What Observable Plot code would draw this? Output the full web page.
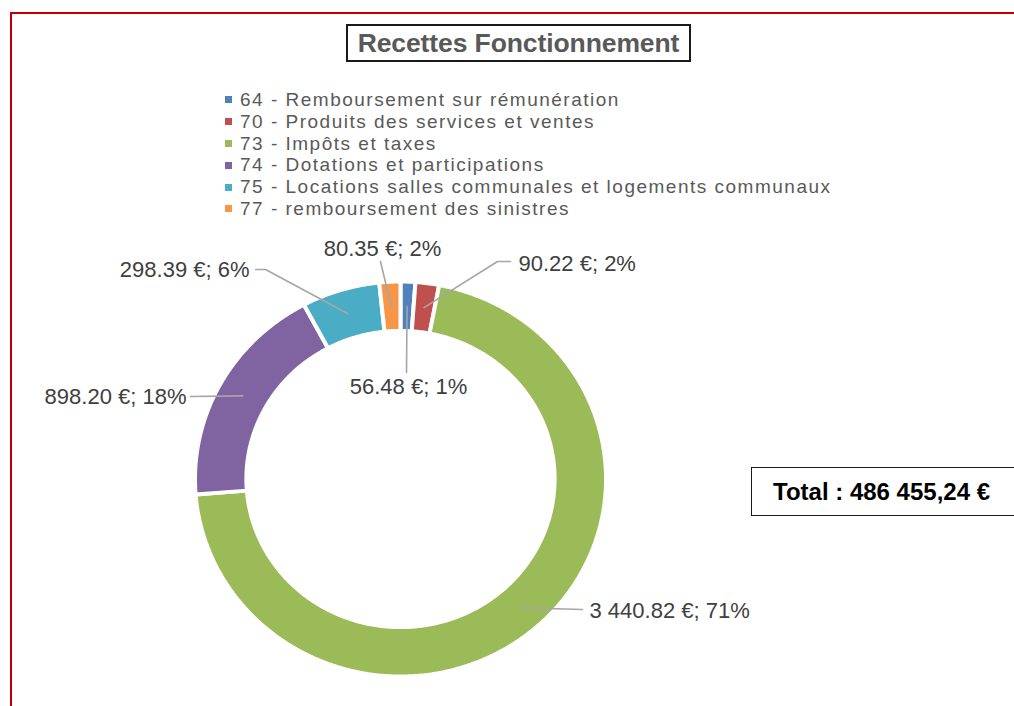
<!DOCTYPE html>
<html><head><meta charset="utf-8">
<script src="https://cdn.jsdelivr.net/npm/d3@7"></script>
<script src="https://cdn.jsdelivr.net/npm/@observablehq/plot@0.6"></script>
<style>
body{margin:0;background:#fff;font-family:"Liberation Sans",Arial,sans-serif;}
#wrap{position:relative;width:1014px;height:706px;overflow:hidden;background:#fff;}
#frame{position:absolute;left:10px;top:12px;width:1100px;height:800px;border-left:2px solid #c00000;border-top:2px solid #c00000;}
#chart{position:absolute;left:0;top:0;}
#title{position:absolute;left:346px;top:24px;width:341px;height:34px;border:2px solid #1a1a1a;color:#595959;font-weight:bold;font-size:26.5px;line-height:34px;text-align:center;background:#fff;letter-spacing:-0.1px;}
#legend{position:absolute;left:225px;top:89px;color:#595959;font-size:19px;letter-spacing:1.5px;}
#legend .row{height:21.8px;line-height:21.8px;white-space:nowrap;display:flex;align-items:center;}
#legend .sw{display:inline-block;width:7px;height:7px;margin-right:8px;}
#total{position:absolute;left:751px;top:467px;width:300px;height:47px;border:1px solid #1a1a1a;background:#fff;}
#total span{position:absolute;left:21px;top:0;line-height:47px;font-weight:bold;font-size:24px;color:#000;white-space:nowrap;}
</style></head>
<body>
<div id="wrap">
  <div id="frame"></div>
  <div id="chart"></div>
  <div id="title">Recettes Fonctionnement</div>
  <div id="legend"></div>
  <div id="total"><span></span></div>
</div>
<script>
// ---- data ----
const categories = [
  "64 - Remboursement sur rémunération",
  "70 - Produits des services et ventes",
  "73 - Impôts et taxes",
  "74 - Dotations et participations",
  "75 - Locations salles communales et logements communaux",
  "77 - remboursement des sinistres"
];
const values = [56.48, 90.22, 3440.82, 898.20, 298.39, 80.35];
const colors = ["#4f81bd", "#c0504d", "#9bbb59", "#8064a2", "#4bacc6", "#f79646"];
const totalText = "Total : 486 455,24 €";

// ---- layout (pixels) for data labels ----
const cx = 400, cy = 478.5, rx = 205.5, ry = 197.5, innerRatio = 0.75;
const labelLayout = [
  {path: [[406, 372]], text: [408, 386], anchor: "middle"},
  {path: [[497, 261], [510, 261]], text: [518, 263], anchor: "start"},
  {path: [[582, 609]], text: [589, 610], anchor: "start"},
  {path: [[190, 396]], text: [186, 396], anchor: "end"},
  {path: [[265, 269], [255, 269]], text: [249, 269], anchor: "end"},
  {path: [[380, 261]], text: [382, 248], anchor: "middle"}
];
const ux = px => (px - cx) / rx;
const uy = py => (cy - py) / ry;

const rows = categories.map((c, i) => ({cat: c, value: values[i]}));
const sum = d3.sum(values);
const fmt = d3.formatLocale({decimal: ".", thousands: " ", grouping: [3], currency: ["", " €"]}).format(",.2f");
const arcs = d3.pie().sort(null).value(d => d.value).startAngle(0).endAngle(2 * Math.PI)(rows);

// ring polygons
const ringPts = [];
arcs.forEach(a => {
  const n = Math.max(4, Math.ceil((a.endAngle - a.startAngle) / 0.01));
  const pts = [];
  for (let k = 0; k <= n; k++) {
    const t = a.startAngle + (a.endAngle - a.startAngle) * k / n;
    pts.push([Math.sin(t), Math.cos(t)]);
  }
  for (let k = n; k >= 0; k--) {
    const t = a.startAngle + (a.endAngle - a.startAngle) * k / n;
    pts.push([innerRatio * Math.sin(t), innerRatio * Math.cos(t)]);
  }
  pts.push(pts[0]);
  pts.forEach(p => ringPts.push({cat: a.data.cat, x: p[0], y: p[1]}));
});

// leader lines
const leaderPts = [];
const labels = [];
arcs.forEach((a, i) => {
  const m = (a.startAngle + a.endAngle) / 2, r = (1 + innerRatio) / 2;
  const L = labelLayout[i];
  leaderPts.push({cat: a.data.cat, x: r * Math.sin(m), y: r * Math.cos(m)});
  L.path.forEach(p => leaderPts.push({cat: a.data.cat, x: ux(p[0]), y: uy(p[1])}));
  labels.push({
    x: ux(L.text[0]), y: uy(L.text[1]), anchor: L.anchor,
    text: `${fmt(a.data.value)} €; ${Math.round(a.data.value / sum * 100)}%`
  });
});

const textStyle = {fontSize: 22, fill: "#404040", fontFamily: "Liberation Sans, Arial, sans-serif"};
const chart = Plot.plot({
  width: 1014, height: 706,
  margin: 0,
  style: {background: "transparent", overflow: "visible"},
  x: {domain: [-1, 1], range: [cx - rx, cx + rx], axis: null},
  y: {domain: [-1, 1], range: [cy + ry, cy - ry], axis: null},
  color: {domain: categories, range: colors},
  marks: [
    Plot.line(ringPts, {x: "x", y: "y", z: "cat", fill: "cat", stroke: "#ffffff", strokeWidth: 4, curve: "linear", strokeLinejoin: "miter"}),
    Plot.line(leaderPts, {x: "x", y: "y", z: "cat", stroke: "#a6a6a6", strokeWidth: 1.6}),
    ...["start", "middle", "end"].map(an =>
      Plot.text(labels.filter(d => d.anchor === an), {x: "x", y: "y", text: "text", textAnchor: an, ...textStyle}))
  ]
});
document.getElementById("chart").appendChild(chart);

// legend
const leg = document.getElementById("legend");
categories.forEach((c, i) => {
  const row = document.createElement("div");
  row.className = "row";
  const sw = document.createElement("span");
  sw.className = "sw";
  sw.style.background = colors[i];
  row.appendChild(sw);
  row.appendChild(document.createTextNode(c));
  leg.appendChild(row);
});
document.querySelector("#total span").textContent = totalText;
</script>
</body></html>
